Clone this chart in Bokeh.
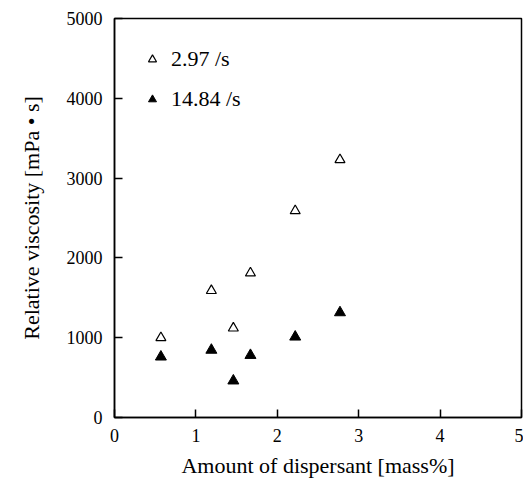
from bokeh.plotting import figure
from bokeh.models import Range1d, Legend, LegendItem, FixedTicker
from bokeh.embed import file_html
from bokeh.resources import INLINE

# data
dispersant = [0.57, 1.19, 1.46, 1.67, 2.22, 2.77]
visc_297 = [1000, 1590, 1120, 1810, 2590, 3230]
visc_1484 = [760, 845, 460, 780, 1010, 1315]
label_297 = "2.97 /s"
label_1484 = "14.84 /s"
x_ticks = [0, 1, 2, 3, 4, 5]
y_ticks = [0, 1000, 2000, 3000, 4000, 5000]

FONT = "Liberation Serif"

p = figure(frame_width=407, frame_height=399, output_backend="svg",
           toolbar_location=None, x_range=Range1d(0, 5), y_range=Range1d(0, 5000),
           min_border_left=114, min_border_top=18, min_border_right=2, min_border_bottom=40)
p.background_fill_color = "white"
p.border_fill_color = "white"
p.outline_line_color = "black"
p.outline_line_width = 1.5
p.grid.visible = False

for ax in (p.xaxis[0], p.yaxis[0]):
    ax.axis_line_color = "black"
    ax.axis_line_width = 1.5
    ax.major_tick_in = 8
    ax.major_tick_out = 0
    ax.major_tick_line_width = 1.5
    ax.minor_tick_line_color = None
    ax.major_label_text_font = FONT
    ax.major_label_text_font_size = "18px"
    ax.major_label_text_color = "black"
    ax.axis_label_text_font = FONT
    ax.axis_label_text_font_size = "22px"
    ax.axis_label_text_font_style = "normal"
    ax.axis_label_text_color = "black"

p.xaxis.ticker = FixedTicker(ticks=x_ticks)
p.yaxis.ticker = FixedTicker(ticks=y_ticks)
p.xaxis.axis_label = "Amount of dispersant [mass%]"
p.yaxis.axis_label = "Relative viscosity [mPa \u2022 s]"
p.xaxis.major_label_standoff = 11
p.yaxis.major_label_standoff = 12
p.xaxis.axis_label_standoff = 8
p.yaxis.axis_label_standoff = 20

r1 = p.scatter(dispersant, visc_297, marker="triangle", size=10,
               fill_color="white", line_color="black", line_width=1.2)
r2 = p.scatter(dispersant, visc_1484, marker="triangle", size=11,
               fill_color="black", line_color="black", line_width=1)

legend = Legend(items=[LegendItem(label=label_297, renderers=[r1]),
                       LegendItem(label=label_1484, renderers=[r2])],
                location="top_left")
legend.label_text_font = FONT
legend.label_text_font_size = "22px"
legend.label_text_color = "black"
legend.glyph_width = 20
legend.glyph_height = 20
legend.label_height = 20
legend.label_standoff = 9
legend.spacing = 14
legend.padding = 0
legend.margin = 28
legend.border_line_color = None
legend.background_fill_alpha = 0
p.add_layout(legend)

open("out.html", "w").write(file_html(p, INLINE))
